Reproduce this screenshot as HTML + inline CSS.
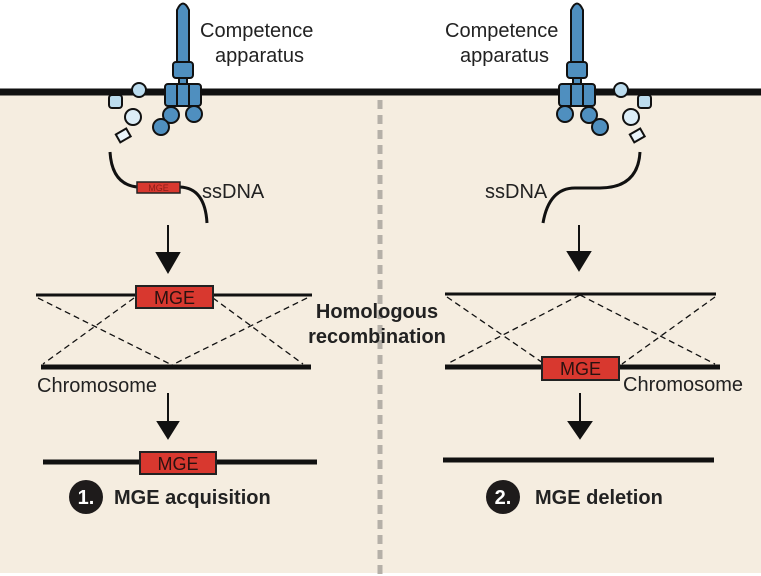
<!DOCTYPE html>
<html><head><style>
html,body{margin:0;padding:0;background:#fff;}
svg{display:block;font-family:"Liberation Sans",sans-serif;}
</style></head><body>
<svg width="761" height="576" viewBox="0 0 761 576">
<rect x="0" y="92" width="761" height="481" fill="#f5ede0"/>
<line x1="0" y1="92" x2="761" y2="92" stroke="#111" stroke-width="7"/>
<line x1="380" y1="100" x2="380" y2="576" stroke="#b5b0a8" stroke-width="5" stroke-dasharray="9,6"/>

<!-- left apparatus -->
<g stroke="#111" stroke-width="2" fill="#4f8fbf">
<path d="M177 63 L177 10 Q183 -3 189 10 L189 63 Z"/>
<rect x="173" y="62" width="20" height="16" rx="3"/>
<rect x="179" y="78" width="8" height="6"/>
<rect x="165" y="84" width="36" height="22" rx="3"/>
<line x1="177" y1="84" x2="177" y2="106"/><line x1="189" y1="84" x2="189" y2="106"/>
<circle cx="171" cy="115" r="8"/><circle cx="194" cy="114" r="8"/><circle cx="161" cy="127" r="8"/>
</g>
<g stroke="#111" stroke-width="2" fill="#bcdcee">
<circle cx="139" cy="90" r="7"/>
<rect x="109" y="95" width="13" height="13" rx="3"/>
<circle cx="133" cy="117" r="8" fill="#dcedf7"/>
<rect x="117" y="131" width="12" height="9" transform="rotate(-30 123 135)" fill="#eaf4fa"/>
</g>
<!-- right apparatus -->
<g stroke="#111" stroke-width="2" fill="#4f8fbf">
<path d="M571 63 L571 10 Q577 -3 583 10 L583 63 Z"/>
<rect x="567" y="62" width="20" height="16" rx="3"/>
<rect x="573" y="78" width="8" height="6"/>
<rect x="559" y="84" width="36" height="22" rx="3"/>
<line x1="571" y1="84" x2="571" y2="106"/><line x1="583" y1="84" x2="583" y2="106"/>
<circle cx="565" cy="114" r="8"/><circle cx="589" cy="115" r="8"/><circle cx="600" cy="127" r="8"/>
</g>
<g stroke="#111" stroke-width="2" fill="#bcdcee">
<circle cx="621" cy="90" r="7"/>
<rect x="638" y="95" width="13" height="13" rx="3"/>
<circle cx="631" cy="117" r="8" fill="#dcedf7"/>
<rect x="631" y="131" width="12" height="9" transform="rotate(-30 637 135)" fill="#eaf4fa"/>
</g>

<g font-size="20" fill="#222">
<text x="200" y="37">Competence</text><text x="215" y="62">apparatus</text>
<text x="445" y="37">Competence</text><text x="460" y="62">apparatus</text>
<text x="202" y="198">ssDNA</text>
<text x="485" y="198">ssDNA</text>
<text x="37" y="392">Chromosome</text>
<text x="623" y="391">Chromosome</text>
</g>

<!-- ssDNA left -->
<path d="M110 152 Q112 185 138 187 M180 187 Q205 188 207 223" fill="none" stroke="#111" stroke-width="3"/>
<rect x="137" y="182" width="43" height="11" fill="#d8382f" stroke="#222" stroke-width="1.5"/>
<text x="158.5" y="191" font-size="9" fill="#8a1e18" text-anchor="middle">MGE</text>
<!-- ssDNA right -->
<path d="M543 223 Q549 188 575 188 L600 188 Q638 188 640 152" fill="none" stroke="#111" stroke-width="3"/>

<!-- arrows -->
<g stroke="#111" stroke-width="2" fill="#111">
<line x1="168" y1="225" x2="168" y2="256"/><path d="M157 253 L179 253 L168 272 Z"/>
<line x1="579" y1="225" x2="579" y2="254"/><path d="M568 252 L590 252 L579 270 Z"/>
<line x1="168" y1="393" x2="168" y2="424"/><path d="M158 422 L178 422 L168 438 Z"/>
<line x1="580" y1="393" x2="580" y2="424"/><path d="M569 422 L591 422 L580 438 Z"/>
</g>

<!-- left recombination -->
<line x1="36" y1="295" x2="312" y2="295" stroke="#111" stroke-width="3"/>
<line x1="41" y1="367" x2="311" y2="367" stroke="#111" stroke-width="5"/>
<g stroke="#111" stroke-width="1.3" stroke-dasharray="6,4" fill="none">
<line x1="38" y1="298" x2="172" y2="365"/><line x1="134" y1="298" x2="43" y2="364"/>
<line x1="213" y1="298" x2="303" y2="364"/><line x1="307" y1="298" x2="172" y2="365"/>
</g>
<rect x="136" y="286" width="77" height="22" fill="#d8382f" stroke="#222" stroke-width="2"/>
<text x="174.5" y="304" font-size="18" fill="#2a1210" text-anchor="middle">MGE</text>

<line x1="43" y1="462" x2="317" y2="462" stroke="#111" stroke-width="5"/>
<rect x="140" y="452" width="76" height="22" fill="#d8382f" stroke="#222" stroke-width="2"/>
<text x="178" y="470" font-size="18" fill="#2a1210" text-anchor="middle">MGE</text>

<!-- right recombination -->
<line x1="445" y1="294" x2="716" y2="294" stroke="#111" stroke-width="3"/>
<line x1="445" y1="367" x2="720" y2="367" stroke="#111" stroke-width="5"/>
<g stroke="#111" stroke-width="1.3" stroke-dasharray="6,4" fill="none">
<line x1="447" y1="297" x2="543" y2="363"/><line x1="580" y1="295" x2="447" y2="364"/>
<line x1="580" y1="295" x2="715" y2="364"/><line x1="715" y1="297" x2="622" y2="364"/>
</g>
<rect x="542" y="357" width="77" height="23" fill="#d8382f" stroke="#222" stroke-width="2"/>
<text x="580.5" y="375" font-size="18" fill="#2a1210" text-anchor="middle">MGE</text>
<line x1="443" y1="460" x2="714" y2="460" stroke="#111" stroke-width="5"/>

<g font-size="20" font-weight="bold" fill="#222" text-anchor="middle">
<text x="377" y="318">Homologous</text><text x="377" y="343">recombination</text>
</g>

<circle cx="86" cy="497" r="17" fill="#1e1b1b"/>
<text x="86" y="504" font-size="20" font-weight="bold" fill="#fff" text-anchor="middle">1.</text>
<text x="114" y="504" font-size="20" font-weight="bold" fill="#222">MGE acquisition</text>
<circle cx="503" cy="497" r="17" fill="#1e1b1b"/>
<text x="503" y="504" font-size="20" font-weight="bold" fill="#fff" text-anchor="middle">2.</text>
<text x="535" y="504" font-size="20" font-weight="bold" fill="#222">MGE deletion</text>
</svg>
</body></html>
